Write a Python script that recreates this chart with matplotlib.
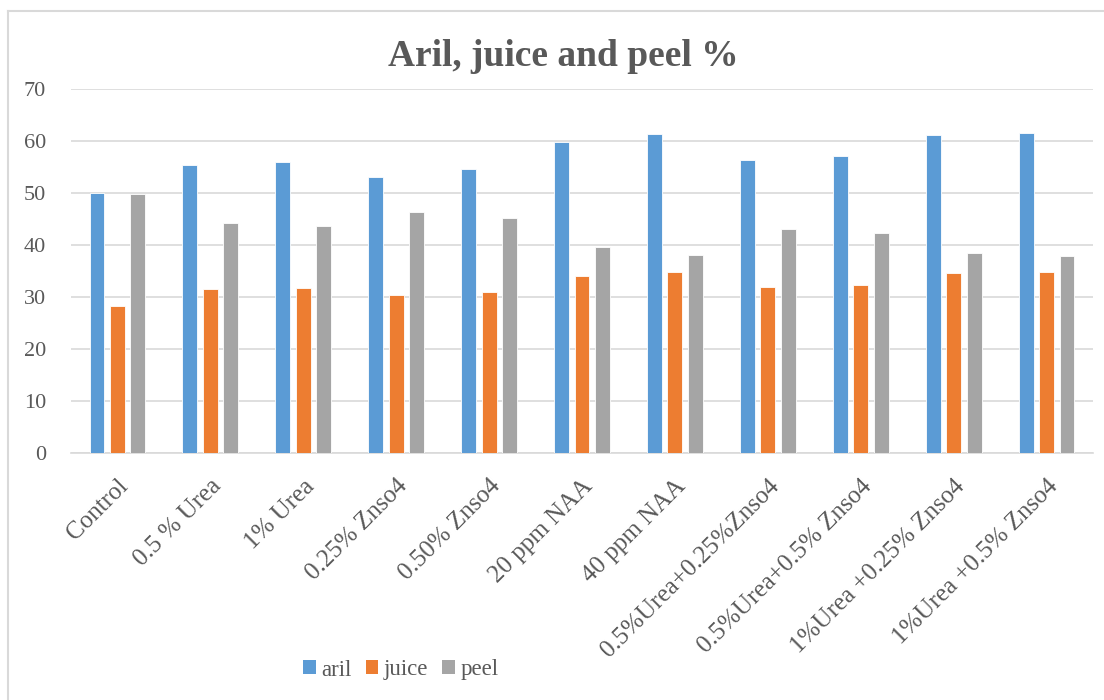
import numpy as np
import matplotlib
matplotlib.use('Agg')
import matplotlib.pyplot as plt
from matplotlib.patches import Patch

# chart data
categories = ['Control', '0.5 % Urea', '1% Urea', '0.25% Znso4', '0.50% Znso4',
              '20 ppm NAA', '40 ppm NAA', '0.5%Urea+0.25%Znso4',
              '0.5%Urea+0.5% Znso4', '1%Urea +0.25% Znso4', '1%Urea +0.5% Znso4']
aril = [50.0, 55.4, 55.9, 53.1, 54.7, 59.9, 61.3, 56.3, 57.1, 61.1, 61.5]
juice = [28.3, 31.5, 31.7, 30.3, 31.0, 34.0, 34.9, 32.0, 32.4, 34.7, 34.9]
peel = [49.8, 44.3, 43.6, 46.3, 45.1, 39.6, 38.1, 43.1, 42.3, 38.4, 37.9]
series_names = ['aril', 'juice', 'peel']
colors = ['#5B9BD5', '#ED7D31', '#A5A5A5']

text_col = '#595959'
grid_col = '#D9D9D9'
plt.rcParams['font.family'] = ['Liberation Serif', 'DejaVu Serif']

fig = plt.figure(figsize=(11.04, 7), dpi=100)
ax = fig.add_axes([71 / 1104, 1 - 453 / 700, 1022 / 1104, 364 / 700])

x = np.arange(len(categories))
width = 0.16
step = 0.22
for i, (vals, col) in enumerate(zip([aril, juice, peel], colors)):
    ax.bar(x + (i - 1) * step, vals, width, color=col, edgecolor='white',
           linewidth=0.6, zorder=3)

ax.set_xlim(-0.5, len(categories) - 0.5)
ax.set_ylim(0, 70)
ax.set_yticks(range(0, 71, 10))
ax.yaxis.grid(True, color=grid_col, linewidth=1.2, zorder=0)
ax.set_axisbelow(True)
for s in ['top', 'right', 'left']:
    ax.spines[s].set_visible(False)
ax.spines['bottom'].set_color(grid_col)
ax.spines['bottom'].set_linewidth(1.2)
ax.tick_params(axis='both', length=0, colors=text_col)
ax.tick_params(axis='y', pad=18, labelsize=16)
ax.set_xticks(x)
ax.set_xticklabels(categories, rotation=45, ha='right', rotation_mode='anchor',
                   color=text_col, fontsize=18)
ax.tick_params(axis='x', pad=16)

fig.text(563 / 1104, 1 - 57 / 700, 'Aril, juice and peel %', ha='center', va='center',
         fontsize=27, fontweight='bold', color=text_col)

# chart frame
fig.add_artist(plt.Line2D([8 / 1104, 1.0], [1 - 11 / 700, 1 - 11 / 700],
                          transform=fig.transFigure, color='#D9D9D9', linewidth=1.5))
fig.add_artist(plt.Line2D([8 / 1104, 8 / 1104], [0, 1 - 11 / 700],
                          transform=fig.transFigure, color='#D9D9D9', linewidth=1.5))

handles = [Patch(facecolor=c, edgecolor='none') for c in colors]
leg = fig.legend(handles, series_names, loc='center', bbox_to_anchor=(401 / 1104, 1 - 670 / 700),
                 ncol=3, frameon=False, fontsize=16.5,
                 handlelength=0.55, handleheight=0.55,
                 handletextpad=0.25, columnspacing=0.6)
for t in leg.get_texts():
    t.set_fontfamily('Liberation Serif')
    t.set_color(text_col)

fig.savefig('out.png', dpi=100)
